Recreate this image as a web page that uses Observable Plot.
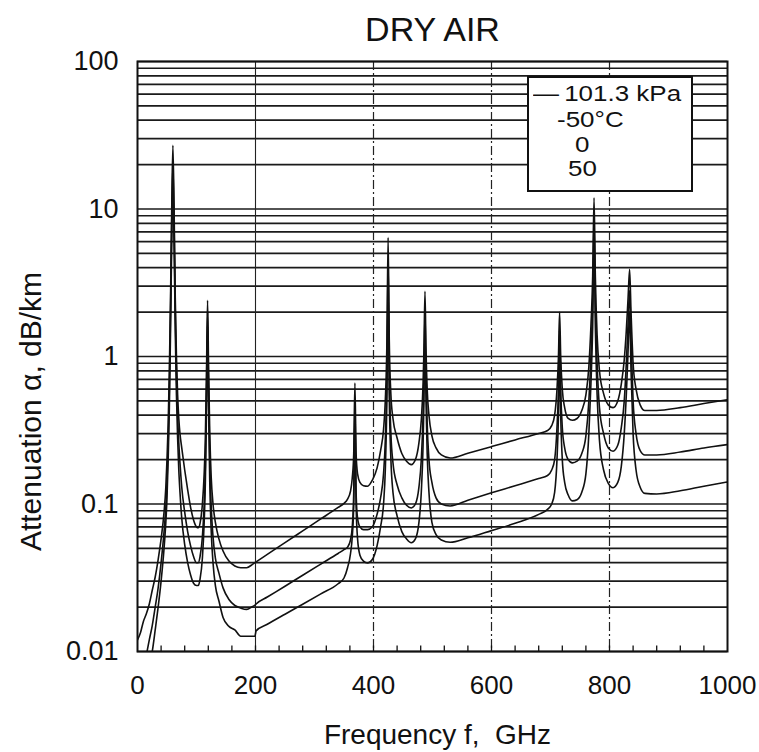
<!DOCTYPE html>
<html><head><meta charset="utf-8">
<script src="https://cdn.jsdelivr.net/npm/d3@7"></script>
<script src="https://cdn.jsdelivr.net/npm/@observablehq/plot@0.6"></script>
<style>
body{margin:0;background:#fff;}
#wrap{position:relative;width:759px;height:752px;font-family:"Liberation Sans",Arial,Helvetica,sans-serif;color:#111;}
#legendBox{position:absolute;left:527px;top:76px;width:166px;height:116px;box-sizing:border-box;border:2px solid #111;background:#fff;}
.lg{position:absolute;font-size:22px;line-height:22px;white-space:pre;transform:scaleX(1.18);transform-origin:left center;}
</style></head><body><div id="wrap"></div>
<script>
// ---- data ----
const freq = [
  0,5,10,15,20,25,30,35,40,45, 48,50,52,54,56,58,60,62,64,66,
  68,70,72,75,80,85,90,95,100,103, 106,110,113,115,117,118.75,120.5,122.5,125,128,
  132,138,145,155,165,175,185,195,199,201,
  220,250,280,310,340,350,356,361,364,366.5, 368.5,370.5,373,377,383,390,398,406,412,417,
  420,422.8,424.76,426.7,429.5,433,440,448,456,464, 471,477,481,484,485.5,487.25,489,491,494,499,
  506,515,530,
  560,600,640,680,695,702,707,711,713.5,715.4, 717.3,720,724,730,737,745,753,760,765,768.5,
  771.5,773.8,776,779,783,790,798,806,814,820, 825,828.5,831.5,834.1,836.5,840,845,852,860,880,
  920,960,1000
];
const minus50 = [
  0.012,0.0134,0.016,0.018,0.021,0.026,0.032,0.042,0.058,0.088, 0.13,0.2,0.35,0.8,2.5,10,27,10,2.5,1.0,
  0.55,0.38,0.3,0.24,0.17,0.125,0.095,0.078,0.07,0.069, 0.074,0.1,0.16,0.28,0.8,2.4,0.8,0.3,0.15,0.1,
  0.075,0.058,0.048,0.041,0.038,0.037,0.037,0.039,0.040,0.0405,
  0.0455,0.0547,0.0657,0.0789,0.0948,0.101,0.108,0.122,0.15,0.22, 0.66,0.22,0.16,0.14,0.133,0.132,0.145,0.175,0.23,0.32,
  0.5,1.3,6.4,1.3,0.55,0.38,0.28,0.22,0.195,0.185, 0.2,0.26,0.37,0.65,1.1,2.77,1.1,0.6,0.4,0.29,
  0.24,0.215,0.205,
  0.221,0.245,0.272,0.301,0.315,0.34,0.4,0.6,1.0,2.0, 1.0,0.6,0.45,0.38,0.37,0.38,0.43,0.55,0.85,1.6,
  3.5,11.9,3.5,1.4,0.8,0.56,0.47,0.45,0.5,0.65, 0.95,1.5,2.5,3.9,2.0,0.9,0.6,0.47,0.43,0.43,
  0.45,0.48,0.51
];
const zero = [
  0.006,0.007,0.008,0.0095,0.012,0.015,0.02,0.027,0.04,0.065, 0.095,0.14,0.26,0.6,2,8,20,8,2,0.75,
  0.4,0.26,0.19,0.13,0.088,0.065,0.052,0.044,0.04,0.04, 0.044,0.06,0.1,0.18,0.6,2.0,0.6,0.2,0.095,0.06,
  0.043,0.034,0.027,0.0225,0.0205,0.0197,0.0193,0.0202,0.0206,0.021,
  0.0234,0.0277,0.0329,0.039,0.0462,0.049,0.051,0.057,0.07,0.12, 0.5,0.12,0.08,0.07,0.067,0.067,0.07,0.085,0.11,0.16,
  0.27,0.8,4.5,0.8,0.3,0.19,0.135,0.11,0.098,0.094, 0.1,0.13,0.2,0.4,0.75,2.0,0.75,0.35,0.2,0.14,
  0.11,0.1,0.097,
  0.106,0.119,0.133,0.149,0.156,0.17,0.2,0.33,0.6,1.5, 0.6,0.33,0.24,0.2,0.19,0.195,0.22,0.29,0.5,1.0,
  2.4,8.5,2.4,0.9,0.45,0.3,0.24,0.228,0.25,0.33, 0.5,0.9,1.7,2.8,1.3,0.5,0.3,0.23,0.215,0.215,
  0.225,0.24,0.253
];
const plus50 = [
  0.004,0.0045,0.005,0.006,0.008,0.01,0.014,0.02,0.03,0.05, 0.075,0.11,0.2,0.45,1.5,6,14,6,1.5,0.55,
  0.28,0.17,0.12,0.08,0.053,0.04,0.033,0.029,0.028,0.028, 0.031,0.043,0.075,0.14,0.45,1.6,0.45,0.14,0.065,0.04,
  0.028,0.022,0.017,0.0148,0.014,0.0127,0.0127,0.0127,0.0127,0.0138,
  0.0153,0.0179,0.0209,0.0245,0.0288,0.0315,0.037,0.046,0.06,0.1, 0.4,0.1,0.058,0.045,0.041,0.0398,0.042,0.052,0.07,0.1,
  0.17,0.55,3.0,0.55,0.2,0.12,0.083,0.065,0.058,0.0546, 0.058,0.075,0.12,0.25,0.5,1.5,0.5,0.22,0.12,0.075,
  0.062,0.057,0.055,
  0.059,0.066,0.074,0.085,0.092,0.1,0.12,0.2,0.4,1.1, 0.4,0.2,0.14,0.115,0.105,0.107,0.12,0.16,0.3,0.65,
  1.6,6,1.6,0.55,0.27,0.17,0.138,0.129,0.14,0.18, 0.3,0.55,1.1,2.0,0.8,0.3,0.17,0.13,0.118,0.117,
  0.123,0.132,0.141
];
const seriesNames = ["-50°C", "0", "50"];
const pressureLabel = "101.3 kPa";
const yTicks = [0.01, 0.1, 1, 10, 100];
const xTicks = [0, 200, 400, 600, 800, 1000];
const decades = [0.01, 0.1, 1, 10];
const multipliers = [1, 2, 3, 4, 5, 6, 7, 8, 9];
const vGridSolid = [200];
const vGridDashed = [400, 600, 800];
const xMinorTicks = [40,80,120,160,200,240,280,320,360,400,440,480,520,560,600,640,680,720,760,800,840,880,920,960];
const titleText = "DRY AIR";
const xLabel = "Frequency f,\u00a0 GHz";
const yLabel = "Attenuation \u03b1, dB/km";

// ---- build ----
const FONT = "'Liberation Sans', Arial, Helvetica, sans-serif";
const hGrid = decades.flatMap(d => multipliers.map(m => +(d * m).toPrecision(3))).concat([100]);
const seriesValues = [minus50, zero, plus50];
const rows = seriesValues.flatMap((vals, k) => freq.map((f, i) => ({f, v: vals[i], s: seriesNames[k]})));

const chart = Plot.plot({
  width: 759, height: 752,
  marginLeft: 137, marginRight: 32, marginTop: 61, marginBottom: 101,
  style: {fontFamily: FONT, background: "#fff", color: "#111", overflow: "visible"},
  x: {domain: [0, 1000]},
  y: {type: "log", domain: [0.01, 100]},
  marks: [
    Plot.ruleY(hGrid, {stroke: "#1a1a1a", strokeWidth: 1.7}),
    Plot.ruleX(vGridSolid, {stroke: "#222", strokeWidth: 1.1}),
    Plot.ruleX(vGridDashed, {stroke: "#222", strokeWidth: 1.2, strokeDasharray: "9,3,2,3"}),
    Plot.ruleX(xMinorTicks, {y1: 0.01, y2: 0.0109, stroke: "#111", strokeWidth: 1.3}),
    Plot.line(rows, {x: "f", y: "v", z: "s", stroke: "#111", strokeWidth: 1.6, curve: "monotone-x", clip: true}),
    Plot.frame({stroke: "#111", strokeWidth: 2}),
    Plot.axisY({ticks: yTicks, tickFormat: d => String(d), tickSize: 0, tickPadding: 19, fontSize: 27, label: null}),
    Plot.axisX({ticks: xTicks, tickFormat: d => String(d), tickSize: 0, tickPadding: 24, fontSize: 26, label: null}),
    Plot.text([titleText], {text: d => d, frameAnchor: "top", lineAnchor: "middle", dy: -31, fontSize: 34}),
    Plot.text([yLabel], {text: d => d, frameAnchor: "left", textAnchor: "middle", lineAnchor: "middle", rotate: -90, dx: -106, dy: 55, fontSize: 30}),
    Plot.text([xLabel], {text: d => d, frameAnchor: "bottom", lineAnchor: "middle", dy: 84, dx: 5, fontSize: 28})
  ]
});
const wrap = document.getElementById("wrap");
wrap.appendChild(chart);

// legend box (text only, as in the reference)
const box = document.createElement("div");
box.id = "legendBox";
wrap.appendChild(box);
const legendLines = [
  {t: "\u2014\u2009" + pressureLabel, left: 533, top: 83},
  {t: seriesNames[0], left: 557, top: 109},
  {t: seriesNames[1], left: 575, top: 134},
  {t: seriesNames[2], left: 568, top: 158}
];
legendLines.forEach(l => {
  const d = document.createElement("div");
  d.className = "lg";
  d.textContent = l.t;
  d.style.left = l.left + "px";
  d.style.top = l.top + "px";
  wrap.appendChild(d);
});
</script>
</body></html>
